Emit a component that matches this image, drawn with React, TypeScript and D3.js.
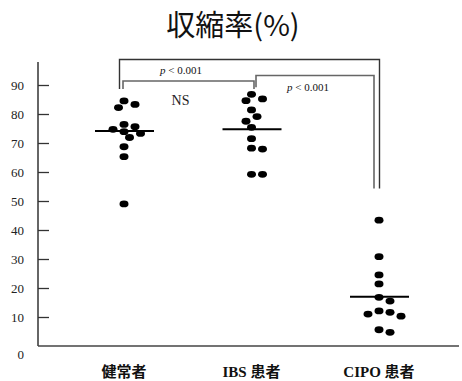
import React, { useEffect, useRef } from 'react';
import * as d3 from 'd3';

// Contraction rate (%) per subject, by group
const categories = ['健常者', 'IBS 患者', 'CIPO 患者'];
const healthyValues = [84.5, 83.3, 82.2, 76.4, 75.6, 74.7, 73.9, 73.3, 71.9, 68.7, 65.3, 49.0];
const ibsValues = [86.8, 85.2, 84.6, 81.4, 79.1, 77.5, 75.4, 71.5, 68.2, 67.9, 59.2, 59.2];
const cipoValues = [43.4, 30.8, 24.5, 21.4, 16.8, 15.5, 12.1, 11.6, 11.0, 10.3, 5.6, 4.7];
const groupCentres = [74.1, 74.7, 17.0];
const yTicks = [0, 10, 20, 30, 40, 50, 60, 70, 80, 90];

// Pairwise comparisons drawn as brackets above the groups
const comparisons = [
  { from: 0, to: 2, label: 'p < 0.001' },
  { from: 0, to: 1, label: 'NS' },
  { from: 1, to: 2, label: 'p < 0.001' },
];

const title = '収縮率(%)';

const W = 462;
const H = 381;

// Greedy beeswarm: each dot takes the nearest free horizontal slot
function swarmOffsets(values: number[], y: (v: number) => number, rx: number, ry: number, step: number) {
  const placed: { dx: number; cy: number }[] = [];
  return values.map((v) => {
    const cy = y(v);
    for (let k = 0; k < 60; k++) {
      const off = k === 0 ? 0 : (k % 2 ? 1 : -1) * Math.ceil(k / 2) * step;
      const free = placed.every(
        (p) => ((p.dx - off) / (2 * rx)) ** 2 + ((p.cy - cy) / (2 * ry)) ** 2 >= 1
      );
      if (free) {
        placed.push({ dx: off, cy });
        return off;
      }
    }
    return 0;
  });
}

export default function App() {
  const ref = useRef<SVGSVGElement | null>(null);

  useEffect(() => {
    const svg = d3.select(ref.current);
    svg.selectAll('*').remove();

    const left = 38;
    const bottom = 346;
    const y = d3.scaleLinear().domain([0, 90]).range([bottom, 85]);
    const x = d3.scalePoint<string>().domain(categories).range([124, 379]);
    const groups = [healthyValues, ibsValues, cipoValues];

    // Title
    svg
      .append('text')
      .attr('x', 233)
      .attr('y', 36)
      .attr('text-anchor', 'middle')
      .attr('font-family', "'Noto Sans CJK JP', 'Noto Sans', sans-serif")
      .attr('font-size', 29)
      .attr('font-weight', 400)
      .attr('fill', '#111')
      .text(title);

    // Y axis
    const axis = d3
      .axisLeft(y)
      .tickValues(yTicks)
      .tickSize(-11)
      .tickPadding(14)
      .tickFormat((d) => String(d));
    const ga = svg.append('g').attr('transform', `translate(${left},0)`).call(axis);
    ga.select('.domain').remove();
    ga.selectAll('.tick line').attr('stroke', '#333').attr('stroke-width', 1.3);
    ga.selectAll('.tick text')
      .attr('font-family', "'Liberation Serif', 'Times New Roman', serif")
      .attr('font-size', 13)
      .attr('fill', '#222');
    ga.selectAll('.tick')
      .filter((d: any) => d === 0)
      .each(function () {
        d3.select(this).select('line').remove();
        d3.select(this).select('text').attr('dy', '0.95em');
      });

    svg
      .append('line')
      .attr('x1', left)
      .attr('x2', left)
      .attr('y1', y.range()[1] - 23)
      .attr('y2', bottom)
      .attr('stroke', '#333')
      .attr('stroke-width', 1.5);
    svg
      .append('line')
      .attr('x1', left)
      .attr('x2', W - 3)
      .attr('y1', bottom)
      .attr('y2', bottom)
      .attr('stroke', '#444')
      .attr('stroke-width', 1.5);

    // Category labels
    svg
      .append('g')
      .selectAll('text')
      .data(categories)
      .join('text')
      .attr('x', (d) => x(d)!)
      .attr('y', 377)
      .attr('text-anchor', 'middle')
      .attr('font-family', "'Liberation Serif', 'Noto Sans CJK JP', serif")
      .attr('font-weight', 'bold')
      .attr('font-size', 15)
      .attr('fill', '#111')
      .text((d) => d);

    // Dots and group centre lines
    const rx = 4.5;
    const ry = 3.4;
    groups.forEach((vals, gi) => {
      const cx = x(categories[gi])!;
      const offs = swarmOffsets(vals, y, 4.6, 3.6, 5.5);
      svg
        .append('g')
        .selectAll('ellipse')
        .data(vals)
        .join('ellipse')
        .attr('cx', (_, i) => cx + offs[i])
        .attr('cy', (d) => y(d))
        .attr('rx', rx)
        .attr('ry', ry)
        .attr('fill', '#000');

      svg
        .append('line')
        .attr('x1', cx - 29)
        .attr('x2', cx + 30)
        .attr('y1', y(groupCentres[gi]))
        .attr('y2', y(groupCentres[gi]))
        .attr('stroke', '#000')
        .attr('stroke-width', 2);
    });

    // Comparison brackets
    const cx = (i: number) => x(categories[i])!;
    const bracket = (pts: [number, number][], colour: string, width: number) =>
      svg
        .append('path')
        .attr('d', d3.line()(pts))
        .attr('fill', 'none')
        .attr('stroke', colour)
        .attr('stroke-width', width);

    const legEnd = y(88.6);
    const longLegEnd = y(54.3);
    // healthy vs CIPO
    const outerTop = y(98.8);
    bracket(
      [
        [cx(comparisons[0].from) - 4.5, legEnd],
        [cx(comparisons[0].from) - 4.5, outerTop],
        [cx(comparisons[0].to) + 0.5, outerTop],
        [cx(comparisons[0].to) + 0.5, longLegEnd],
      ],
      '#333',
      1.4
    );
    // healthy vs IBS
    const innerTop = y(91.4);
    bracket(
      [
        [cx(comparisons[1].from) - 1, legEnd],
        [cx(comparisons[1].from) - 1, innerTop],
        [cx(comparisons[1].to) + 2.5, innerTop],
        [cx(comparisons[1].to) + 2.5, legEnd],
      ],
      '#666',
      1.6
    );
    // IBS vs CIPO
    const midTop = y(93.3);
    bracket(
      [
        [cx(comparisons[2].from) + 4.5, y(89.2)],
        [cx(comparisons[2].from) + 4.5, midTop],
        [cx(comparisons[2].to) - 5, midTop],
        [cx(comparisons[2].to) - 5, longLegEnd],
      ],
      '#666',
      1.6
    );

    const pLabel = (tx: number, ty: number, label: string) => {
      const t = svg
        .append('text')
        .attr('x', tx)
        .attr('y', ty)
        .attr('text-anchor', 'middle')
        .attr('font-family', "'Liberation Serif', serif")
        .attr('font-size', 11)
        .attr('fill', '#111');
      const [p, ...rest] = label.split(' ');
      t.append('tspan').attr('font-style', 'italic').text(p);
      t.append('tspan').text(' ' + rest.join(' '));
    };
    pLabel(181, 73.5, comparisons[0].label);
    pLabel(308, 90.5, comparisons[2].label);

    svg
      .append('text')
      .attr('x', 180.5)
      .attr('y', 105)
      .attr('text-anchor', 'middle')
      .attr('font-family', "'Liberation Serif', serif")
      .attr('font-size', 14)
      .attr('fill', '#222')
      .text(comparisons[1].label);
  }, []);

  return (
    <svg
      ref={ref}
      width={W}
      height={H}
      style={{ position: 'absolute', left: 0, top: 0, background: '#fff' }}
    />
  );
}
